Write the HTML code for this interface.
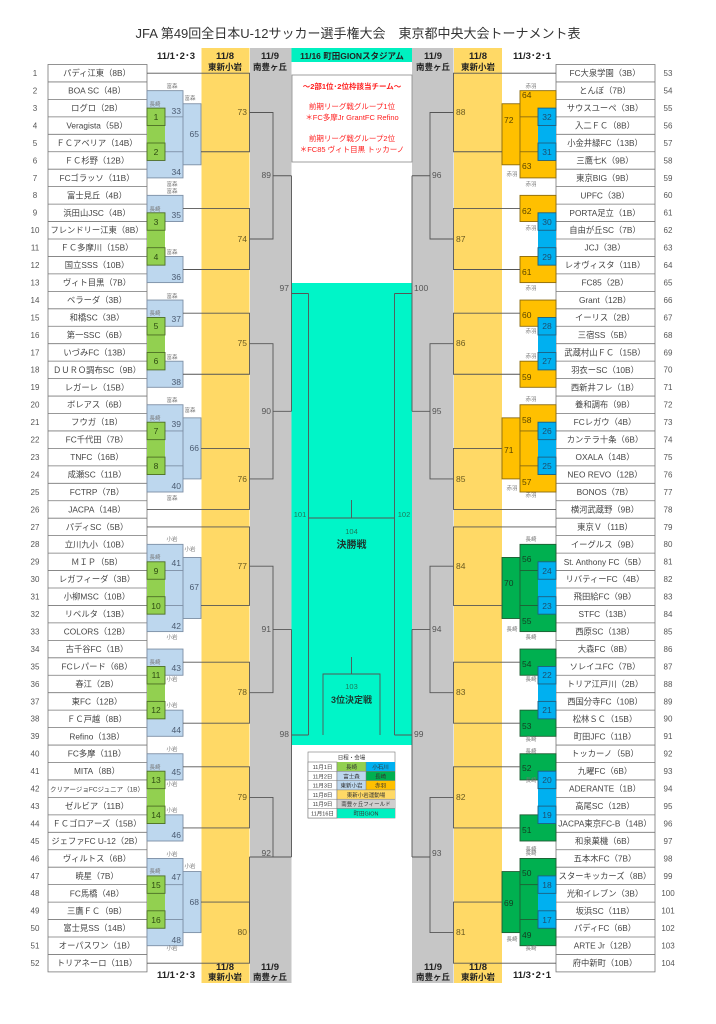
<!DOCTYPE html>
<html><head><meta charset="utf-8"><style>
html,body{margin:0;padding:0;background:#fff}
svg{display:block}
text{font-family:"Liberation Sans","Noto Sans CJK JP",sans-serif}
.t{font-size:8.3px;fill:#444;text-anchor:middle}
.rn{font-size:8px;fill:#555;text-anchor:middle}
.n{font-size:8.5px;fill:#4a5a70}
.y{font-size:8.5px;fill:#6a5a20}
.g{font-size:8.5px;fill:#555}
.h{font-size:9.5px;font-weight:bold;fill:#222;text-anchor:middle}
.s{font-size:5.5px;fill:#777;text-anchor:middle}
.br{fill:none;stroke:#555;stroke-width:.9}
.lb{fill:#bdd7ee;stroke:#7d8fa5;stroke-width:.9}
.gr{fill:#92d050;stroke:#4d6e25;stroke-width:.9}
.or{fill:#ffc000;stroke:#8a6a10;stroke-width:.9}
.dg{fill:#00b050;stroke:#1f5e33;stroke-width:.9}
.bl{fill:#00b0f0;stroke:#1d5f80;stroke-width:.9}
.tm{fill:#fff;stroke:#777;stroke-width:.8}
</style></head><body>
<svg width="716" height="1024" viewBox="0 0 716 1024" xmlns="http://www.w3.org/2000/svg">
<!-- columns -->
<rect x="201.5" y="48" width="48" height="935" fill="#ffd966"/>
<rect x="250" y="48" width="41.5" height="935" fill="#c6c6c6"/>
<rect x="412" y="48" width="41.5" height="935" fill="#c6c6c6"/>
<rect x="454" y="48" width="48" height="935" fill="#ffd966"/>
<rect x="291.5" y="48" width="120.5" height="14" fill="#00f0c0"/>
<rect x="291.5" y="283" width="120.5" height="462" fill="#00f5c8"/>
<rect x="292" y="75" width="120" height="87" fill="#fff" stroke="#888" stroke-width=".8"/>

<text x="358" y="38" style="font-size:13px;fill:#333;text-anchor:middle">JFA 第49回全日本U-12サッカー選手権大会　東京都中央大会トーナメント表</text>
<text class="h" x="176" y="59">11/1･2･3</text>
<text class="h" x="225" y="59">11/8</text><text class="h" x="225" y="70" style="font-size:8.5px">東新小岩</text>
<text class="h" x="270" y="59">11/9</text><text class="h" x="270" y="70" style="font-size:8.5px">南豊ヶ丘</text>
<text class="h" x="352" y="59" style="font-size:8.5px">11/16 町田GIONスタジアム</text>
<text class="h" x="433" y="59">11/9</text><text class="h" x="433" y="70" style="font-size:8.5px">南豊ヶ丘</text>
<text class="h" x="478" y="59">11/8</text><text class="h" x="478" y="70" style="font-size:8.5px">東新小岩</text>
<text class="h" x="532" y="59">11/3･2･1</text>
<text class="h" x="176" y="978">11/1･2･3</text>
<text class="h" x="225" y="970">11/8</text><text class="h" x="225" y="980" style="font-size:8.5px">東新小岩</text>
<text class="h" x="270" y="970">11/9</text><text class="h" x="270" y="980" style="font-size:8.5px">南豊ヶ丘</text>
<text class="h" x="433" y="970">11/9</text><text class="h" x="433" y="980" style="font-size:8.5px">南豊ヶ丘</text>
<text class="h" x="478" y="970">11/8</text><text class="h" x="478" y="980" style="font-size:8.5px">東新小岩</text>
<text class="h" x="532" y="978">11/3･2･1</text>

<g style="fill:#ff2020;font-size:7.5px;text-anchor:middle">
<text x="352" y="89" style="font-weight:bold">～2部1位･2位枠該当チーム～</text>
<text x="352" y="109">前期リーグ戦グループ1位</text>
<text x="352" y="120">＊FC多摩Jr  GrantFC  Refino</text>
<text x="352" y="141">前期リーグ戦グループ2位</text>
<text x="352" y="152">＊FC85  ヴィト目黒  トッカーノ</text>
</g>

<!-- team boxes left -->
<g>
<rect class="tm" x="48" y="64.5" width="99" height="907.4"/>
<path d="M48 81.95H147M48 99.4H147M48 116.85H147M48 134.3H147M48 151.75H147M48 169.2H147M48 186.65H147M48 204.1H147M48 221.55H147M48 239H147M48 256.45H147M48 273.9H147M48 291.35H147M48 308.8H147M48 326.25H147M48 343.7H147M48 361.15H147M48 378.6H147M48 396.05H147M48 413.5H147M48 430.95H147M48 448.4H147M48 465.85H147M48 483.3H147M48 500.75H147M48 518.2H147M48 535.65H147M48 553.1H147M48 570.55H147M48 588H147M48 605.45H147M48 622.9H147M48 640.35H147M48 657.8H147M48 675.25H147M48 692.7H147M48 710.15H147M48 727.6H147M48 745.05H147M48 762.5H147M48 779.95H147M48 797.4H147M48 814.85H147M48 832.3H147M48 849.75H147M48 867.2H147M48 884.65H147M48 902.1H147M48 919.55H147M48 937H147M48 954.45H147" stroke="#777" stroke-width=".8"/>
<rect class="tm" x="556" y="64.5" width="99" height="907.4"/>
<path d="M556 81.95H655M556 99.4H655M556 116.85H655M556 134.3H655M556 151.75H655M556 169.2H655M556 186.65H655M556 204.1H655M556 221.55H655M556 239H655M556 256.45H655M556 273.9H655M556 291.35H655M556 308.8H655M556 326.25H655M556 343.7H655M556 361.15H655M556 378.6H655M556 396.05H655M556 413.5H655M556 430.95H655M556 448.4H655M556 465.85H655M556 483.3H655M556 500.75H655M556 518.2H655M556 535.65H655M556 553.1H655M556 570.55H655M556 588H655M556 605.45H655M556 622.9H655M556 640.35H655M556 657.8H655M556 675.25H655M556 692.7H655M556 710.15H655M556 727.6H655M556 745.05H655M556 762.5H655M556 779.95H655M556 797.4H655M556 814.85H655M556 832.3H655M556 849.75H655M556 867.2H655M556 884.65H655M556 902.1H655M556 919.55H655M556 937H655M556 954.45H655" stroke="#777" stroke-width=".8"/>
</g>

<!-- left team names -->
<g class="t">
<text x="97" y="76.2">パディ江東（8B）</text><text x="97" y="93.6">BOA SC（4B）</text><text x="97" y="111.1">ログロ（2B）</text><text x="97" y="128.5">Veragista（5B）</text><text x="97" y="146">ＦＣアベリア（14B）</text><text x="97" y="163.4">ＦＣ杉野（12B）</text><text x="97" y="180.9">FCゴラッソ（11B）</text><text x="97" y="198.3">富士見丘（4B）</text><text x="97" y="215.8">浜田山JSC（4B）</text><text x="97" y="233.2">フレンドリー江東（8B）</text><text x="97" y="250.7">ＦＣ多摩川（15B）</text><text x="97" y="268.1">国立SSS（10B）</text><text x="97" y="285.6">ヴィト目黒（7B）</text><text x="97" y="303">ベラーダ（3B）</text><text x="97" y="320.5">和橋SC（3B）</text><text x="97" y="337.9">第一SSC（6B）</text><text x="97" y="355.4">いづみFC（13B）</text><text x="97" y="372.8">ＤＵＲＯ調布SC（9B）</text><text x="97" y="390.3">レガーレ（15B）</text><text x="97" y="407.7">ボレアス（6B）</text><text x="97" y="425.2">フウガ（1B）</text><text x="97" y="442.6">FC千代田（7B）</text><text x="97" y="460.1">TNFC（16B）</text><text x="97" y="477.5">成瀬SC（11B）</text><text x="97" y="495">FCTRP（7B）</text><text x="97" y="512.4">JACPA（14B）</text><text x="97" y="529.9">パディSC（5B）</text><text x="97" y="547.3">立川九小（10B）</text><text x="97" y="564.8">ＭＩＰ（5B）</text><text x="97" y="582.2">レガフィーダ（3B）</text><text x="97" y="599.7">小柳MSC（10B）</text><text x="97" y="617.1">リベルタ（13B）</text><text x="97" y="634.6">COLORS（12B）</text><text x="97" y="652">古千谷FC（1B）</text><text x="97" y="669.5">FCレパード（6B）</text><text x="97" y="686.9">春江（2B）</text><text x="97" y="704.4">東FC（12B）</text><text x="97" y="721.8">ＦＣ戸越（8B）</text><text x="97" y="739.3">Refino（13B）</text><text x="97" y="756.7">FC多摩（11B）</text><text x="97" y="774.2">MITA（8B）</text><text x="97" y="791.6" style="font-size:6.5px">クリアージョFCジュニア（1B）</text><text x="97" y="809.1">ゼルビア（11B）</text><text x="97" y="826.5">ＦＣゴロアーズ（15B）</text><text x="97" y="844">ジェファFC U-12（2B）</text><text x="97" y="861.4">ヴィルトス（6B）</text><text x="97" y="878.9">暁星（7B）</text><text x="97" y="896.3">FC馬橋（4B）</text><text x="97" y="913.8">三鷹ＦＣ（9B）</text><text x="97" y="931.2">富士見SS（14B）</text><text x="97" y="948.7">オーパスワン（1B）</text><text x="97" y="966.1">トリアネーロ（11B）</text>
</g>
<g class="t">
<text x="605" y="76.2">FC大泉学園（3B）</text><text x="605" y="93.6">とんぼ（7B）</text><text x="605" y="111.1">サウスユーペ（3B）</text><text x="605" y="128.5">入二ＦＣ（8B）</text><text x="605" y="146">小金井緑FC（13B）</text><text x="605" y="163.4">三鷹七K（9B）</text><text x="605" y="180.9">東京BIG（9B）</text><text x="605" y="198.3">UPFC（3B）</text><text x="605" y="215.8">PORTA足立（1B）</text><text x="605" y="233.2">自由が丘SC（7B）</text><text x="605" y="250.7">JCJ（3B）</text><text x="605" y="268.1">レオヴィスタ（11B）</text><text x="605" y="285.6">FC85（2B）</text><text x="605" y="303">Grant（12B）</text><text x="605" y="320.5">イーリス（2B）</text><text x="605" y="337.9">三宿SS（5B）</text><text x="605" y="355.4">武蔵村山ＦＣ（15B）</text><text x="605" y="372.8">羽衣ーSC（10B）</text><text x="605" y="390.3">西新井フレ（1B）</text><text x="605" y="407.7">養和調布（9B）</text><text x="605" y="425.2">FCレガウ（4B）</text><text x="605" y="442.6">カンテラ十条（6B）</text><text x="605" y="460.1">OXALA（14B）</text><text x="605" y="477.5">NEO REVO（12B）</text><text x="605" y="495">BONOS（7B）</text><text x="605" y="512.4">横河武蔵野（9B）</text><text x="605" y="529.9">東京Ｖ（11B）</text><text x="605" y="547.3">イーグルス（9B）</text><text x="605" y="564.8">St. Anthony FC（5B）</text><text x="605" y="582.2">リバティーFC（4B）</text><text x="605" y="599.7">飛田給FC（9B）</text><text x="605" y="617.1">STFC（13B）</text><text x="605" y="634.6">西原SC（13B）</text><text x="605" y="652">大森FC（8B）</text><text x="605" y="669.5">ソレイユFC（7B）</text><text x="605" y="686.9">トリア江戸川（2B）</text><text x="605" y="704.4">西国分寺FC（10B）</text><text x="605" y="721.8">松林ＳＣ（15B）</text><text x="605" y="739.3">町田JFC（11B）</text><text x="605" y="756.7">トッカーノ（5B）</text><text x="605" y="774.2">九曜FC（6B）</text><text x="605" y="791.6">ADERANTE（1B）</text><text x="605" y="809.1">高尾SC（12B）</text><text x="605" y="826.5">JACPA東京FC-B（14B）</text><text x="605" y="844">和泉菓機（6B）</text><text x="605" y="861.4">五本木FC（7B）</text><text x="605" y="878.9">スターキッカーズ（8B）</text><text x="605" y="896.3">光和イレブン（3B）</text><text x="605" y="913.8">坂浜SC（11B）</text><text x="605" y="931.2">パディFC（6B）</text><text x="605" y="948.7">ARTE Jr（12B）</text><text x="605" y="966.1">府中新町（10B）</text>
</g>
<!-- row numbers -->
<g class="rn">
<text x="35" y="76">1</text><text x="35" y="93.5">2</text><text x="35" y="111">3</text><text x="35" y="128.4">4</text><text x="35" y="145.9">5</text><text x="35" y="163.3">6</text><text x="35" y="180.8">7</text><text x="35" y="198.2">8</text><text x="35" y="215.7">9</text><text x="35" y="233.1">10</text><text x="35" y="250.6">11</text><text x="35" y="268">12</text><text x="35" y="285.5">13</text><text x="35" y="302.9">14</text><text x="35" y="320.4">15</text><text x="35" y="337.8">16</text><text x="35" y="355.3">17</text><text x="35" y="372.7">18</text><text x="35" y="390.2">19</text><text x="35" y="407.6">20</text><text x="35" y="425.1">21</text><text x="35" y="442.5">22</text><text x="35" y="460">23</text><text x="35" y="477.4">24</text><text x="35" y="494.9">25</text><text x="35" y="512.3">26</text><text x="35" y="529.8">27</text><text x="35" y="547.2">28</text><text x="35" y="564.7">29</text><text x="35" y="582.1">30</text><text x="35" y="599.6">31</text><text x="35" y="617">32</text><text x="35" y="634.5">33</text><text x="35" y="651.9">34</text><text x="35" y="669.4">35</text><text x="35" y="686.8">36</text><text x="35" y="704.3">37</text><text x="35" y="721.7">38</text><text x="35" y="739.2">39</text><text x="35" y="756.6">40</text><text x="35" y="774.1">41</text><text x="35" y="791.5">42</text><text x="35" y="809">43</text><text x="35" y="826.4">44</text><text x="35" y="843.9">45</text><text x="35" y="861.3">46</text><text x="35" y="878.8">47</text><text x="35" y="896.2">48</text><text x="35" y="913.7">49</text><text x="35" y="931.1">50</text><text x="35" y="948.6">51</text><text x="35" y="966">52</text>
<text x="668" y="76">53</text><text x="668" y="93.5">54</text><text x="668" y="111">55</text><text x="668" y="128.4">56</text><text x="668" y="145.9">57</text><text x="668" y="163.3">58</text><text x="668" y="180.8">59</text><text x="668" y="198.2">60</text><text x="668" y="215.7">61</text><text x="668" y="233.1">62</text><text x="668" y="250.6">63</text><text x="668" y="268">64</text><text x="668" y="285.5">65</text><text x="668" y="302.9">66</text><text x="668" y="320.4">67</text><text x="668" y="337.8">68</text><text x="668" y="355.3">69</text><text x="668" y="372.7">70</text><text x="668" y="390.2">71</text><text x="668" y="407.6">72</text><text x="668" y="425.1">73</text><text x="668" y="442.5">74</text><text x="668" y="460">75</text><text x="668" y="477.4">76</text><text x="668" y="494.9">77</text><text x="668" y="512.3">78</text><text x="668" y="529.8">79</text><text x="668" y="547.2">80</text><text x="668" y="564.7">81</text><text x="668" y="582.1">82</text><text x="668" y="599.6">83</text><text x="668" y="617">84</text><text x="668" y="634.5">85</text><text x="668" y="651.9">86</text><text x="668" y="669.4">87</text><text x="668" y="686.8">88</text><text x="668" y="704.3">89</text><text x="668" y="721.7">90</text><text x="668" y="739.2">91</text><text x="668" y="756.6">92</text><text x="668" y="774.1">93</text><text x="668" y="791.5">94</text><text x="668" y="809">95</text><text x="668" y="826.4">96</text><text x="668" y="843.9">97</text><text x="668" y="861.3">98</text><text x="668" y="878.8">99</text><text x="668" y="896.2">100</text><text x="668" y="913.7">101</text><text x="668" y="931.1">102</text><text x="668" y="948.6">103</text><text x="668" y="966">104</text>
</g>

<!-- LEFT first rounds -->
<g>
<!-- Q1A -->
<rect x="147" y="90.65" width="36" height="87.25" fill="#bdd7ee"/>
<rect class="lb" x="183" y="103.75" width="18" height="61.05"/>
<rect class="lb" x="147" y="90.65" width="36" height="26.2"/>
<rect class="lb" x="147" y="151.75" width="36" height="26.15"/>
<rect x="147" y="125.6" width="18" height="17.4" fill="#92d050"/>
<rect class="gr" x="147" y="108.1" width="18" height="17.45"/>
<rect class="gr" x="147" y="143" width="18" height="17.45"/>
<!-- Q1B -->
<rect class="lb" x="147" y="195.35" width="36" height="26.2"/>
<rect class="lb" x="147" y="256.45" width="36" height="26.15"/>
<rect x="147" y="230.3" width="18" height="17.4" fill="#92d050"/>
<rect class="gr" x="147" y="212.8" width="18" height="17.45"/>
<rect class="gr" x="147" y="247.7" width="18" height="17.45"/>
<!-- Q2B -->
<rect class="lb" x="147" y="300.05" width="36" height="26.25"/>
<rect class="lb" x="147" y="361.2" width="36" height="26.1"/>
<rect x="147" y="335" width="18" height="17.45" fill="#92d050"/>
<rect class="gr" x="147" y="317.5" width="18" height="17.45"/>
<rect class="gr" x="147" y="352.45" width="18" height="17.45"/>
<!-- Q2A' -->
<rect x="147" y="404.75" width="36" height="87.25" fill="#bdd7ee"/>
<rect class="lb" x="183" y="417.85" width="18" height="61.05"/>
<rect class="lb" x="147" y="404.75" width="36" height="26.2"/>
<rect class="lb" x="147" y="465.85" width="36" height="26.15"/>
<rect x="147" y="439.7" width="18" height="17.4" fill="#92d050"/>
<rect class="gr" x="147" y="422.2" width="18" height="17.45"/>
<rect class="gr" x="147" y="457.1" width="18" height="17.45"/>
<!-- Q3A -->
<rect x="147" y="544.35" width="36" height="87.25" fill="#bdd7ee"/>
<rect class="lb" x="183" y="557.45" width="18" height="61.05"/>
<rect class="lb" x="147" y="544.35" width="36" height="26.2"/>
<rect class="lb" x="147" y="605.45" width="36" height="26.15"/>
<rect x="147" y="579.3" width="18" height="17.4" fill="#92d050"/>
<rect class="gr" x="147" y="561.8" width="18" height="17.45"/>
<rect class="gr" x="147" y="596.7" width="18" height="17.45"/>
<!-- Q3B -->
<rect class="lb" x="147" y="649.05" width="36" height="26.2"/>
<rect class="lb" x="147" y="710.15" width="36" height="26.15"/>
<rect x="147" y="684" width="18" height="17.4" fill="#92d050"/>
<rect class="gr" x="147" y="666.5" width="18" height="17.45"/>
<rect class="gr" x="147" y="701.4" width="18" height="17.45"/>
<!-- Q4B -->
<rect class="lb" x="147" y="753.75" width="36" height="26.2"/>
<rect class="lb" x="147" y="814.85" width="36" height="26.15"/>
<rect x="147" y="788.7" width="18" height="17.4" fill="#92d050"/>
<rect class="gr" x="147" y="771.2" width="18" height="17.45"/>
<rect class="gr" x="147" y="806.1" width="18" height="17.45"/>
<!-- Q4A' -->
<rect x="147" y="858.45" width="36" height="87.25" fill="#bdd7ee"/>
<rect class="lb" x="183" y="871.55" width="18" height="61.05"/>
<rect class="lb" x="147" y="858.45" width="36" height="26.2"/>
<rect class="lb" x="147" y="919.55" width="36" height="26.15"/>
<rect x="147" y="893.4" width="18" height="17.4" fill="#92d050"/>
<rect class="gr" x="147" y="875.9" width="18" height="17.45"/>
<rect class="gr" x="147" y="910.8" width="18" height="17.45"/>
</g>

<!-- RIGHT first rounds -->
<g>
<rect x="520" y="90.65" width="36" height="87.25" fill="#ffc000"/>
<rect class="or" x="502" y="103.75" width="18" height="61.05"/>
<rect class="or" x="520" y="90.65" width="36" height="26.2"/>
<rect class="or" x="520" y="151.75" width="36" height="26.15"/>
<rect x="538" y="125.6" width="18" height="17.4" fill="#00b0f0"/>
<rect class="bl" x="538" y="108.1" width="18" height="17.45"/>
<rect class="bl" x="538" y="143" width="18" height="17.45"/>

<rect class="or" x="520" y="195.35" width="36" height="26.2"/>
<rect class="or" x="520" y="256.45" width="36" height="26.15"/>
<rect x="538" y="230.3" width="18" height="17.4" fill="#00b0f0"/>
<rect class="bl" x="538" y="212.8" width="18" height="17.45"/>
<rect class="bl" x="538" y="247.7" width="18" height="17.45"/>

<rect class="or" x="520" y="300.05" width="36" height="26.25"/>
<rect class="or" x="520" y="361.2" width="36" height="26.1"/>
<rect x="538" y="335" width="18" height="17.45" fill="#00b0f0"/>
<rect class="bl" x="538" y="317.5" width="18" height="17.45"/>
<rect class="bl" x="538" y="352.45" width="18" height="17.45"/>

<rect x="520" y="404.75" width="36" height="87.25" fill="#ffc000"/>
<rect class="or" x="502" y="417.85" width="18" height="61.05"/>
<rect class="or" x="520" y="404.75" width="36" height="26.2"/>
<rect class="or" x="520" y="465.85" width="36" height="26.15"/>
<rect x="538" y="439.7" width="18" height="17.4" fill="#00b0f0"/>
<rect class="bl" x="538" y="422.2" width="18" height="17.45"/>
<rect class="bl" x="538" y="457.1" width="18" height="17.45"/>

<rect x="520" y="544.35" width="36" height="87.25" fill="#00b050"/>
<rect class="dg" x="502" y="557.45" width="18" height="61.05"/>
<rect class="dg" x="520" y="544.35" width="36" height="26.2"/>
<rect class="dg" x="520" y="605.45" width="36" height="26.15"/>
<rect x="538" y="579.3" width="18" height="17.4" fill="#00b0f0"/>
<rect class="bl" x="538" y="561.8" width="18" height="17.45"/>
<rect class="bl" x="538" y="596.7" width="18" height="17.45"/>

<rect class="dg" x="520" y="649.05" width="36" height="26.2"/>
<rect class="dg" x="520" y="710.15" width="36" height="26.15"/>
<rect x="538" y="684" width="18" height="17.4" fill="#00b0f0"/>
<rect class="bl" x="538" y="666.5" width="18" height="17.45"/>
<rect class="bl" x="538" y="701.4" width="18" height="17.45"/>

<rect class="dg" x="520" y="753.75" width="36" height="26.2"/>
<rect class="dg" x="520" y="814.85" width="36" height="26.15"/>
<rect x="538" y="788.7" width="18" height="17.4" fill="#00b0f0"/>
<rect class="bl" x="538" y="771.2" width="18" height="17.45"/>
<rect class="bl" x="538" y="806.1" width="18" height="17.45"/>

<rect x="520" y="858.45" width="36" height="87.25" fill="#00b050"/>
<rect class="dg" x="502" y="871.55" width="18" height="61.05"/>
<rect class="dg" x="520" y="858.45" width="36" height="26.2"/>
<rect class="dg" x="520" y="919.55" width="36" height="26.15"/>
<rect x="538" y="893.4" width="18" height="17.4" fill="#00b0f0"/>
<rect class="bl" x="538" y="875.9" width="18" height="17.45"/>
<rect class="bl" x="538" y="910.8" width="18" height="17.45"/>
</g>

<!-- bracket lines -->
<g class="br">
<!-- left byes & B outputs -->
<path d="M147 73.2H201M147 509.45H201M147 526.9H201M147 963.15H201"/>
<path d="M183 208.45H201M183 269.5H201M183 313.2H201M183 374.25H201M183 662.15H201M183 723.2H201M183 766.85H201M183 827.9H201"/>
<!-- left yellow -->
<path d="M201 73.2H249.5V151.75H201"/>
<path d="M201 208.45H249.5V269.5H201"/>
<path d="M201 313.2H249.5V374.25H201"/>
<path d="M201 448.4H249.5V509.45H201"/>
<path d="M201 526.9H249.5V605.45H201"/>
<path d="M201 662.15H249.5V723.2H201"/>
<path d="M201 766.85H249.5V827.9H201"/>
<path d="M201 902.1H249.5V963.15H201"/>
<!-- left gray -->
<path d="M249.5 112.5H273V239H249.5M273 175.75H291.5"/>
<path d="M249.5 343.7H273V478.9H249.5M273 411.3H291.5"/>
<path d="M249.5 566.2H273V692.7H249.5M273 629.45H291.5"/>
<path d="M249.5 797.4H273V857H249.5M273 857H291.5"/>
<path d="M249.5 857V932.6"/>
<path d="M291.5 175.75V411.3M291.5 293.5H308.5M291.5 629.45V857M291.5 735H308.5"/>
<path d="M308.5 293.5V735M308.5 518H394.5M351.5 518V500"/>
<path d="M323 735V674H380V735M351.5 674V657"/>
<!-- right -->
<path d="M556 73.2H502M556 509.45H502M556 526.9H502M556 963.15H502"/>
<path d="M520 208.45H502M520 269.5H502M520 313.2H502M520 374.25H502M520 662.15H502M520 723.2H502M520 766.85H502M520 827.9H502"/>
<path d="M502 73.2H453.5V151.75H502"/>
<path d="M502 208.45H453.5V269.5H502"/>
<path d="M502 313.2H453.5V374.25H502"/>
<path d="M502 448.4H453.5V509.45H502"/>
<path d="M502 526.9H453.5V605.45H502"/>
<path d="M502 662.15H453.5V723.2H502"/>
<path d="M502 766.85H453.5V827.9H502"/>
<path d="M502 902.1H453.5V963.15H502"/>
<path d="M453.5 112.5H430V239H453.5M430 175.75H412"/>
<path d="M453.5 343.7H430V478.9H453.5M430 411.3H412"/>
<path d="M453.5 566.2H430V692.7H453.5M430 629.45H412"/>
<path d="M453.5 797.4H430V857H412M430 857V932.6H453.5"/>
<path d="M412 175.75V411.3M412 293.5H394.5M412 629.45V857M412 735H394.5"/>
<path d="M394.5 293.5V735"/>
</g>

<!-- left match numbers -->
<g class="n" style="text-anchor:end">
<text x="181" y="114">33</text><text x="181" y="175">34</text><text x="199" y="137">65</text>
<text x="181" y="218">35</text><text x="181" y="280">36</text>
<text x="181" y="322">37</text><text x="181" y="385">38</text>
<text x="181" y="427">39</text><text x="181" y="489">40</text><text x="199" y="451">66</text>
<text x="181" y="566">41</text><text x="181" y="629">42</text><text x="199" y="590">67</text>
<text x="181" y="671">43</text><text x="181" y="733">44</text>
<text x="181" y="775">45</text><text x="181" y="838">46</text>
<text x="181" y="880">47</text><text x="181" y="943">48</text><text x="199" y="905">68</text>
</g>
<g style="font-size:8.5px;fill:#2d4a12;text-anchor:middle">
<text x="156" y="120">1</text><text x="156" y="155">2</text><text x="156" y="225">3</text><text x="156" y="260">4</text>
<text x="156" y="329">5</text><text x="156" y="364">6</text><text x="156" y="434">7</text><text x="156" y="469">8</text>
<text x="156" y="574">9</text><text x="156" y="609">10</text><text x="156" y="678">11</text><text x="156" y="713">12</text>
<text x="156" y="783">13</text><text x="156" y="818">14</text><text x="156" y="888">15</text><text x="156" y="923">16</text>
</g>
<g class="y" style="text-anchor:end">
<text x="247" y="115">73</text><text x="247" y="242">74</text><text x="247" y="346">75</text><text x="247" y="482">76</text>
<text x="247" y="569">77</text><text x="247" y="695">78</text><text x="247" y="800">79</text><text x="247" y="935">80</text>
</g>
<g class="g" style="text-anchor:end">
<text x="271" y="178">89</text><text x="271" y="414">90</text><text x="271" y="632">91</text><text x="271" y="856">92</text>
<text x="289" y="291">97</text><text x="289" y="737">98</text>
</g>
<!-- right match numbers -->
<g style="font-size:8.5px;fill:#5a4500">
<text x="522" y="98">64</text><text x="522" y="169">63</text><text x="504" y="123">72</text>
<text x="522" y="214">62</text><text x="522" y="275">61</text>
<text x="522" y="318">60</text><text x="522" y="380">59</text>
<text x="522" y="423">58</text><text x="522" y="485">57</text><text x="504" y="453">71</text>
</g>
<g style="font-size:8.5px;fill:#143d22">
<text x="522" y="562">56</text><text x="522" y="624">55</text><text x="504" y="586">70</text>
<text x="522" y="667">54</text><text x="522" y="729">53</text>
<text x="522" y="771">52</text><text x="522" y="833">51</text>
<text x="522" y="876">50</text><text x="522" y="938">49</text><text x="504" y="906">69</text>
</g>
<g style="font-size:8.5px;fill:#1d4f70;text-anchor:middle">
<text x="547" y="120">32</text><text x="547" y="155">31</text><text x="547" y="225">30</text><text x="547" y="260">29</text>
<text x="547" y="329">28</text><text x="547" y="364">27</text><text x="547" y="434">26</text><text x="547" y="469">25</text>
<text x="547" y="574">24</text><text x="547" y="609">23</text><text x="547" y="678">22</text><text x="547" y="713">21</text>
<text x="547" y="783">20</text><text x="547" y="818">19</text><text x="547" y="888">18</text><text x="547" y="923">17</text>
</g>
<g class="y">
<text x="456" y="115">88</text><text x="456" y="242">87</text><text x="456" y="346">86</text><text x="456" y="482">85</text>
<text x="456" y="569">84</text><text x="456" y="695">83</text><text x="456" y="800">82</text><text x="456" y="935">81</text>
</g>
<g class="g">
<text x="432" y="178">96</text><text x="432" y="414">95</text><text x="432" y="632">94</text><text x="432" y="856">93</text>
<text x="414" y="291">100</text><text x="414" y="737">99</text>
</g>
<g style="font-size:7.5px;fill:#1a7a5a;text-anchor:middle">
<text x="300" y="517">101</text><text x="404" y="517">102</text>
<text x="351.5" y="534">104</text><text x="351.5" y="689">103</text>
</g>
<text x="351.5" y="548" style="font-size:10px;font-weight:bold;fill:#1a3a30;text-anchor:middle">決勝戦</text>
<text x="351.5" y="703" style="font-size:9px;font-weight:bold;fill:#1a3a30;text-anchor:middle">3位決定戦</text>

<!-- venue small labels -->
<g class="s">
<text x="172" y="88">富森</text><text x="190" y="100">富森</text><text x="155" y="106">長崎</text>
<text x="172" y="186">富森</text><text x="172" y="193">富森</text><text x="155" y="211">長崎</text><text x="172" y="254">富森</text>
<text x="172" y="298">富森</text><text x="155" y="315">長崎</text><text x="172" y="359">富森</text>
<text x="172" y="402">富森</text><text x="190" y="412">富森</text><text x="155" y="420">長崎</text><text x="172" y="500">富森</text>
<text x="172" y="541">小岩</text><text x="190" y="551">小岩</text><text x="155" y="559">長崎</text><text x="172" y="639">小岩</text>
<text x="155" y="664">長崎</text><text x="172" y="681">小岩</text><text x="172" y="707">小岩</text>
<text x="172" y="751">小岩</text><text x="155" y="769">長崎</text><text x="172" y="786">小岩</text><text x="172" y="812">小岩</text>
<text x="172" y="856">小岩</text><text x="190" y="868">小岩</text><text x="155" y="873">長崎</text><text x="172" y="950">小岩</text>
<text x="531" y="88">赤羽</text><text x="512" y="176">赤羽</text><text x="531" y="186">赤羽</text><text x="531" y="230">赤羽</text><text x="531" y="290">赤羽</text>
<text x="531" y="333">赤羽</text><text x="531" y="358">赤羽</text><text x="531" y="401">赤羽</text><text x="512" y="490">赤羽</text><text x="531" y="497">赤羽</text>
<text x="531" y="541">長崎</text><text x="512" y="631">長崎</text><text x="531" y="639">長崎</text><text x="531" y="681">長崎</text><text x="531" y="741">長崎</text>
<text x="531" y="753">長崎</text><text x="531" y="782">長崎</text><text x="531" y="851">長崎</text>
<text x="531" y="855">長崎</text><text x="512" y="941">長崎</text><text x="531" y="950">長崎</text>
</g>

<!-- legend -->
<g style="font-size:5.5px;text-anchor:middle;fill:#333">
<rect x="308" y="752" width="87" height="66" fill="#fff" stroke="#777" stroke-width=".6"/>
<text x="351.5" y="759.5">日程・会場</text>
<rect x="308" y="762" width="29" height="56" fill="#fff" stroke="#777" stroke-width=".6"/>
<rect x="337" y="762" width="29" height="9.3" fill="#92d050"/><rect x="366" y="762" width="29" height="9.3" fill="#00b0f0"/>
<rect x="337" y="771.3" width="29" height="9.3" fill="#bdd7ee"/><rect x="366" y="771.3" width="29" height="9.3" fill="#00b050"/>
<rect x="337" y="780.6" width="29" height="9.3" fill="#bdd7ee"/><rect x="366" y="780.6" width="29" height="9.3" fill="#ffc000"/>
<rect x="337" y="789.9" width="58" height="9.3" fill="#ffd966"/>
<rect x="337" y="799.2" width="58" height="9.3" fill="#d0cece"/>
<rect x="337" y="808.5" width="58" height="9.5" fill="#00f0c0"/>
<path d="M308 771.3H395M308 780.6H395M308 789.9H395M308 799.2H395M308 808.5H395M337 762V818M366 762V789.9" stroke="#777" stroke-width=".5"/>
<text x="322.5" y="769">11月1日</text><text x="351.5" y="769">長崎</text><text x="380.5" y="769">小石川</text>
<text x="322.5" y="778.3">11月2日</text><text x="351.5" y="778.3">富士森</text><text x="380.5" y="778.3">長崎</text>
<text x="322.5" y="787.6">11月3日</text><text x="351.5" y="787.6">東新小岩</text><text x="380.5" y="787.6">赤羽</text>
<text x="322.5" y="796.9">11月8日</text><text x="366" y="796.9">東新小岩運動場</text>
<text x="322.5" y="806.2">11月9日</text><text x="366" y="806.2">南豊ヶ丘フィールド</text>
<text x="322.5" y="815.5">11月16日</text><text x="366" y="815.5">町田GION</text>
</g>
</svg>
</body></html>
